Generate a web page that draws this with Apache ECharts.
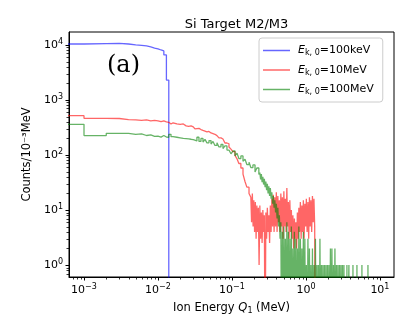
<!DOCTYPE html>
<html>
<head>
<meta charset="utf-8">
<script src="https://cdn.jsdelivr.net/npm/echarts@6/dist/echarts.min.js"></script>
<style>
html, body { margin: 0; padding: 0; background: #fff; }
#chart { width: 407px; height: 326px; }
</style>
</head>
<body>
<div id="chart"></div>
<script>
// histogram steps, [Q1 in MeV, counts / 1e-3 MeV]; 0.01 stands for an empty bin
const blueSteps = [[0.0005,10400],[0.001,10600],[0.002,10700],[0.003,10400],[0.004,10000],[0.005,9800],
  [0.006,9600],[0.007,9200],[0.008,8800],[0.009,8500],[0.010,8100],[0.011,7800],[0.012,6600],
  [0.013,2300],[0.014,0.01],[0.02,0.01]]

const redSteps = [[0.0005,519],[0.001,464],[0.002,460],[0.003,438],[0.004,435],[0.005,425],[0.006,435],
  [0.007,415],[0.008,425],[0.009,415],[0.010,405],[0.011,415],[0.012,400],[0.013,393],[0.014,366],
  [0.015,385],[0.016,375],[0.017,366],[0.018,380],[0.019,360],[0.020,350],[0.021,366],[0.022,345],
  [0.023,338],[0.024,350],[0.025,332],[0.026,325],[0.027,338],[0.028,318],[0.029,325],[0.030,310],
  [0.0316,297],[0.0336,305],[0.0358,290],[0.0381,280],[0.0406,285],[0.0432,262],[0.0459,268],
  [0.0489,251],[0.0521,255],[0.0554,238],[0.0589,225],[0.0627,230],[0.0667,205],[0.071,195],
  [0.0756,185],[0.0804,165],[0.0856,160],[0.0911,140],[0.0969,128],[0.1031,115],[0.110,98],
  [0.117,85],[0.124,70],[0.132,58],[0.141,45],[0.150,33],[0.159,26],[0.170,20],
  [0.180,17],[0.1842,6],[0.1886,20],[0.1931,5],[0.1976,15],[0.2023,4],[0.2071,14],[0.2120,3],
  [0.2170,12],[0.2221,4],[0.2273,11],[0.2327,1],[0.2382,12],[0.2438,3],[0.2496,9],[0.2555,2.5],
  [0.2615,10],[0.2677,4],[0.274,8],[0.2805,0.01],[0.2871,9],[0.2939,3],[0.3008,11],[0.3079,4],
  [0.3152,8],[0.3227,2.5],[0.3303,12],[0.3381,4],[0.3461,16],[0.3543,5],[0.3626,19],[0.3712,4],
  [0.380,17],[0.389,5],[0.398,21],[0.4075,4],[0.417,18],[0.427,6],[0.437,15],[0.447,4],
  [0.458,20],[0.469,5],[0.480,17],[0.491,3],[0.503,22],[0.515,5],[0.527,16],[0.539,4],
  [0.552,25],[0.565,5],[0.5785,14],[0.592,3],[0.606,15],[0.620,4],[0.635,10],[0.650,3],
  [0.666,8],[0.682,2],[0.698,7],[0.714,3],[0.731,6],[0.748,2],[0.766,9],[0.784,3],
  [0.802,11],[0.821,4],[0.841,14],[0.861,3],[0.881,12],[0.902,4],[0.923,15],[0.945,3],
  [0.967,13],[0.990,5],[1.013,16],[1.037,4],[1.064,14],[1.089,3],[1.115,17],[1.141,5],
  [1.168,15],[1.196,4],[1.224,18],[1.253,6],[1.283,16],[1.313,5],[1.344,0.01],[1.5,0.01]]

const greenSteps = [[0.0005,361],[0.001,225],[0.002,248],[0.003,248],[0.004,237],[0.005,241],
  [0.006,226],[0.007,231],[0.008,218],[0.009,221],[0.010,211],[0.011,226],[0.012,212],[0.013,210],
  [0.014,237],[0.015,215],[0.016,228],[0.017,210],[0.018,222],[0.019,205],[0.020,218],[0.021,200],
  [0.022,212],[0.023,198],[0.024,210],[0.025,196],[0.026,205],[0.027,193],[0.028,203],[0.029,190],
  [0.030,204],[0.0316,180],[0.0336,210],[0.0358,176],[0.0381,200],[0.0406,172],[0.0432,192],
  [0.0459,166],[0.0489,183],[0.0521,158],[0.0554,176],[0.0589,149],[0.0627,166],[0.0667,140],
  [0.071,155],[0.0756,131],[0.0804,146],[0.0856,123],[0.0911,131],[0.0969,105],[0.1031,118],
  [0.110,96],[0.117,108],[0.124,86],[0.132,96],[0.141,77],[0.150,84],[0.159,67],[0.170,74],
  [0.180,59],[0.192,66],[0.205,49],[0.217,58],[0.231,44],
  [0.2382,48],[0.2438,36],[0.2496,45],[0.2555,32],[0.2615,40],[0.2677,29],[0.274,37],[0.2805,26],
  [0.2871,33],[0.2939,23],[0.3008,30],[0.3079,20],[0.3152,27],[0.3227,18],[0.3303,25],[0.3381,16],
  [0.3461,21],[0.3543,13],[0.3626,18],[0.3712,11],[0.380,15],[0.389,9],[0.398,13],[0.4075,7],
  [0.417,11],[0.427,5],[0.437,8],[0.447,3],[0.458,6],[0.469,0.01],[0.480,4],[0.491,0.01],
  [0.503,5],[0.515,0.01],[0.527,3],[0.539,0.01],[0.552,6],[0.565,0.01],[0.5785,4],[0.592,0.01],
  [0.606,3],[0.620,0.01],[0.635,5],[0.650,0.01],[0.666,2],[0.682,0.01],[0.698,4],[0.714,0.01],
  [0.731,3],[0.748,0.01],[0.766,2],[0.784,0.01],[0.802,5],[0.821,0.01],[0.841,3],[0.861,0.01],
  [0.881,2],[0.902,0.01],[0.923,4],[0.945,0.01],[0.967,3],[0.990,0.01],[1.013,1],[1.037,0.01],
  [1.064,3],[1.089,0.01],[1.115,2],[1.141,0.01],[1.168,1],[1.196,0.01],[1.224,2],[1.253,0.01],
  [1.283,1],[1.313,0.01],[1.344,3],[1.376,0.01],[1.408,1],[1.441,0.01],[1.475,1],[1.510,0.01],
  [1.546,3],[1.582,0.01],[1.620,1],[1.658,0.01],[1.697,1],[1.737,0.01],[1.778,1],[1.820,0.01],
  [1.863,1],[1.907,0.01],[1.952,1],[1.998,0.01],[2.045,1],[2.093,0.01],[2.143,2],[2.193,0.01],
  [2.245,2],[2.298,0.01],[2.353,1],[2.408,0.01],[2.465,2],[2.523,0.01],[2.583,1],[2.644,0.01],
  [2.706,1],[2.770,0.01],[2.836,1],[2.903,0.01],[2.971,1],[3.041,0.01],[3.113,1],[3.187,0.01],
  [3.262,1],[3.339,0.01],[3.58,1],[3.60,0.01],[3.81,1],[3.83,0.01],[4.32,1],[4.34,0.01],
  [4.89,1],[4.92,0.01],[5.71,1],[5.74,0.01],[6.89,1],[6.93,0.01],[8,0.01]]

const seriesNames = ['100keV', '10MeV', '100MeV']
const xMajor = [0.001, 0.01, 0.1, 1, 10]
const yMajor = [1, 10, 100, 1000, 10000]

function minorTicks(lo, hi, min, max) {
  const out = []
  for (let e = lo; e <= hi; e++) {
    for (let k = 2; k <= 9; k++) {
      const v = k * Math.pow(10, e)
      if (v > min && v < max) out.push(v)
    }
  }
  return out
}

function powLabel(v) {
  const e = Math.round(Math.log10(v))
  return '10{sup|' + (e < 0 ? '\u2212' + (-e) : e) + '}'
}

const font = 'DejaVu Sans'
const xMin = 6.27e-4, xMax = 15.5
const yMin = 0.605, yMax = 17200

const chart = echarts.init(document.getElementById('chart'))

function logAxis(min, max, ticks, extra) {
  return Object.assign({
    type: 'log',
    min: min,
    max: max,
    axisLine: { show: true, onZero: false, lineStyle: { color: '#000', width: 1 } },
    axisTick: { show: true, inside: false, length: 3.5, customValues: ticks, lineStyle: { color: '#000', width: 1 } },
    axisLabel: {
      customValues: ticks,
      formatter: powLabel,
      color: '#000',
      fontFamily: font,
      fontSize: 11,
      margin: 6,
      rich: { sup: { fontSize: 8, fontFamily: font, color: '#000', padding: [0, 0, 6, 0] } }
    },
    splitLine: { show: false }
  }, extra)
}

function stepSeries(name, data, color) {
  return {
    name: name,
    type: 'line',
    step: 'end',
    data: data,
    symbol: 'none',
    showSymbol: false,
    clip: true,
    animation: false,
    color: color,
    lineStyle: { color: color, width: 1.3 }
  }
}

chart.setOption({
  animation: false,
  backgroundColor: '#fff',
  title: {
    text: 'Si Target M2/M3',
    left: 231.5,
    textAlign: 'center',
    top: 13,
    textStyle: { fontFamily: font, fontSize: 13, fontWeight: 'normal', color: '#000' }
  },
  grid: {
    left: 69, right: 13, top: 32, bottom: 49,
    show: true, borderColor: '#000', borderWidth: 1, backgroundColor: 'transparent'
  },
  legend: {
    data: seriesNames.map(n => ({ name: n, icon: 'rect' })),
    orient: 'vertical',
    left: 259,
    top: 38,
    itemWidth: 27,
    itemHeight: 1.5,
    itemGap: 7.5,
    padding: [7, 9, 6, 4],
    borderColor: '#ccc',
    borderWidth: 1,
    borderRadius: 3,
    backgroundColor: '#fff',
    formatter: function (name) {
      return '{e|E}{s|k, 0}{t|=' + name + '}'
    },
    textStyle: {
      color: '#000',
      fontFamily: font,
      fontSize: 11,
      padding: [0, 0, 0, 3],
      rich: {
        e: { fontFamily: font, fontSize: 11, fontStyle: 'italic', color: '#000' },
        s: { fontFamily: font, fontSize: 8, color: '#000', padding: [5, 0, 0, 0] },
        t: { fontFamily: font, fontSize: 11, color: '#000' }
      }
    }
  },
  xAxis: logAxis(xMin, xMax, xMajor, {
    position: 'bottom',
    name: 'Ion Energy {i|Q}{s|1} (MeV)',
    nameLocation: 'middle',
    nameGap: 25,
    nameTextStyle: {
      fontFamily: font, fontSize: 11.5, color: '#000',
      rich: {
        i: { fontFamily: font, fontSize: 11.5, fontStyle: 'italic', color: '#000' },
        s: { fontFamily: font, fontSize: 8, color: '#000', padding: [5, 0, 0, 0] }
      }
    }
  }),
  yAxis: logAxis(yMin, yMax, yMajor, {
    position: 'left',
    name: 'Counts/10\u207b\u00b3MeV',
    nameLocation: 'middle',
    nameGap: 36,
    nameTextStyle: { fontFamily: font, fontSize: 11.5, color: '#000' }
  }),
  series: [
    stepSeries(seriesNames[0], blueSteps, 'rgba(0,0,255,0.6)'),
    stepSeries(seriesNames[1], redSteps, 'rgba(255,0,0,0.6)'),
    stepSeries(seriesNames[2], greenSteps, 'rgba(0,128,0,0.6)')
  ]
})

// minor log ticks placed through the axes' own scales
const axisBottom = chart.convertToPixel({ yAxisIndex: 0 }, yMin)
const axisLeft = chart.convertToPixel({ xAxisIndex: 0 }, xMin)
const tickMarks = []
minorTicks(-4, 1, xMin, xMax).forEach(function (v) {
  const px = Math.round(chart.convertToPixel({ xAxisIndex: 0 }, v)) + 0.5
  tickMarks.push({
    type: 'line', silent: true,
    shape: { x1: px, y1: axisBottom, x2: px, y2: axisBottom + 2.5 },
    style: { stroke: '#000', lineWidth: 0.8 }
  })
})
minorTicks(-1, 4, yMin, yMax).forEach(function (v) {
  const py = Math.round(chart.convertToPixel({ yAxisIndex: 0 }, v)) + 0.5
  tickMarks.push({
    type: 'line', silent: true,
    shape: { x1: axisLeft - 2.5, y1: py, x2: axisLeft, y2: py },
    style: { stroke: '#000', lineWidth: 0.8 }
  })
})

chart.setOption({
  graphic: [{
    type: 'text',
    left: 107,
    top: 54,
    style: { text: '(a)', font: '24px "DejaVu Serif"', fill: '#000' }
  }].concat(tickMarks)
})
</script>
</body>
</html>
